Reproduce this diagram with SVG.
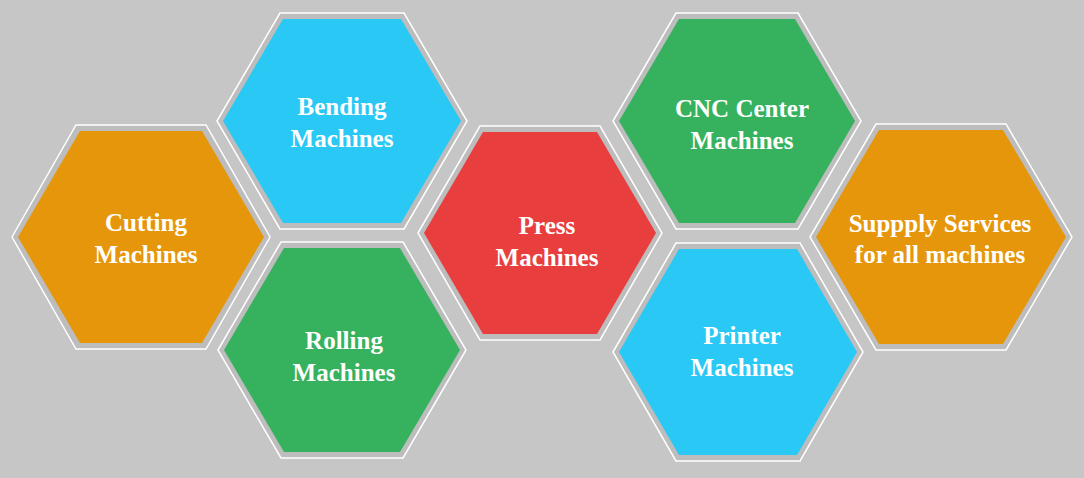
<svg xmlns="http://www.w3.org/2000/svg" width="1084" height="478" viewBox="0 0 1084 478">
<style>
.o{fill:#bdbdbd;stroke:#fff;stroke-width:1.5}
.t{fill:#fff;font-family:"Liberation Serif",serif;font-weight:bold;font-size:25px;text-anchor:middle}
</style>
<rect width="1084" height="478" fill="#c6c6c6"/>
<g id="cutting">
<polygon class="o" points="12,237 76,125 206,125 270,237 206,349 76,349"/>
<polygon fill="#E6960A" points="18,237 80,131 202,131 264,237 202,343 80,343"/>
<text class="t" x="146" y="231">Cutting</text><text class="t" x="146" y="263">Machines</text>
</g>
<g id="bending">
<polygon class="o" points="217,121 280,13 404,13 467,121 404,229 280,229"/>
<polygon fill="#29C8F5" points="223,121 283,19 401,19 461,121 401,223 283,223"/>
<text class="t" x="342" y="115">Bending</text><text class="t" x="342" y="147">Machines</text>
</g>
<g id="rolling">
<polygon class="o" points="218,350 281,242 403,242 466,350 403,458 281,458"/>
<polygon fill="#36B25E" points="224,350 284,248 400,248 460,350 400,452 284,452"/>
<text class="t" x="344" y="349">Rolling</text><text class="t" x="344" y="381">Machines</text>
</g>
<g id="press">
<polygon class="o" points="418,233 480,126 600,126 662,233 600,340 480,340"/>
<polygon fill="#E83E3E" points="424,233 483,132 597,132 656,233 597,334 483,334"/>
<text class="t" x="547" y="234">Press</text><text class="t" x="547" y="266">Machines</text>
</g>
<g id="cnc">
<polygon class="o" points="613,121 676,13 798,13 861,121 798,229 676,229"/>
<polygon fill="#36B25E" points="619,121 679,19 795,19 855,121 795,223 679,223"/>
<text class="t" x="742" y="117">CNC Center</text><text class="t" x="742" y="149">Machines</text>
</g>
<g id="printer">
<polygon class="o" points="613,352 676,243 800,243 863,352 800,461 676,461"/>
<polygon fill="#29C8F5" points="619,352 679,249 797,249 857,352 797,455 679,455"/>
<text class="t" x="742" y="344">Printer</text><text class="t" x="742" y="376">Machines</text>
</g>
<g id="supply">
<polygon class="o" points="810,237 876,124 1006,124 1072,237 1006,350 876,350"/>
<polygon fill="#E6960A" points="816,237 879,130 1003,130 1066,237 1003,344 879,344"/>
<text class="t" x="940" y="232">Suppply Services</text><text class="t" x="940" y="263">for all machines</text>
</g>
<g id="connectors"/>
</svg>
